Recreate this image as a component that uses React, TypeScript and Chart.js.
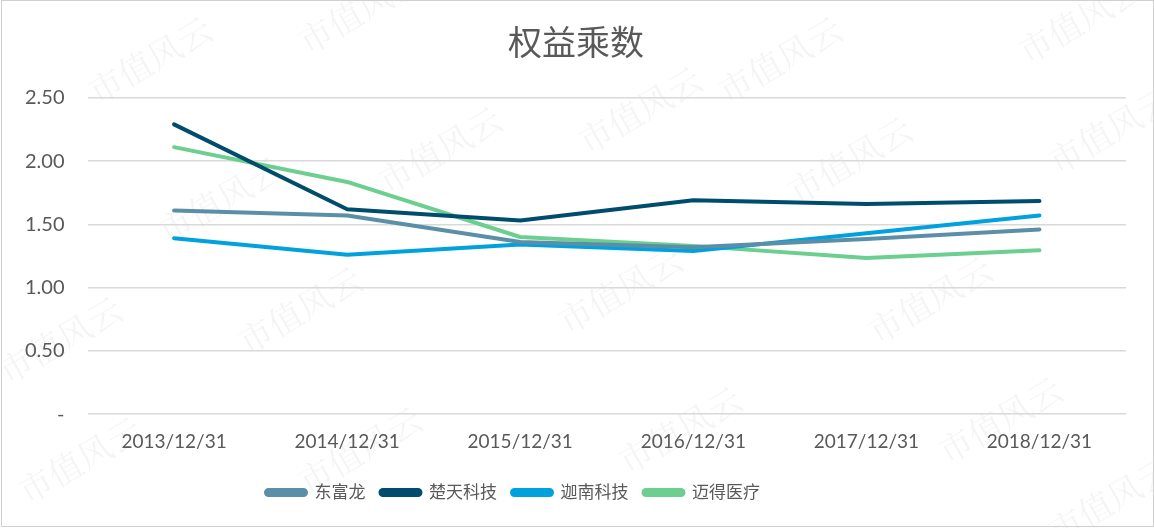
import React, { useEffect, useRef } from "react";
import { Chart, registerables } from "chart.js";

Chart.register(...registerables);

const categories = ["2013/12/31", "2014/12/31", "2015/12/31", "2016/12/31", "2017/12/31", "2018/12/31"];
const seriesNames = ["东富龙", "楚天科技", "迦南科技", "迈得医疗"];
const dongfulong = [1.61, 1.57, 1.36, 1.32, 1.385, 1.46];
const chutian = [2.29, 1.62, 1.53, 1.69, 1.66, 1.685];
const jianan = [1.39, 1.26, 1.34, 1.29, 1.43, 1.57];
const maide = [2.11, 1.835, 1.40, 1.33, 1.235, 1.295];
const colors = ["#5B8FA8", "#004C6D", "#00A2DE", "#6CCF8F"];
const yTicks = [0, 0.5, 1, 1.5, 2, 2.5];

const FONT = "Lato, 'Noto Sans CJK SC', sans-serif";
const LEGEND_CENTER = 513;
const TITLE_CENTER = 576;

const watermark = {
  id: "watermark",
  beforeDraw(chart: any) {
    const ctx = chart.ctx;
    ctx.save();
    ctx.fillStyle = "rgba(0,0,0,0.045)";
    ctx.font = "34px 'Noto Serif CJK SC', 'Noto Sans CJK SC', serif";
    const spots = [
      [150, 60], [360, 10], [780, 60], [1080, 20],
      [220, 200], [440, 150], [640, 110], [850, 160], [1110, 130],
      [300, 310], [620, 290], [930, 300],
      [60, 340], [80, 460], [360, 450], [680, 430], [1000, 420], [1110, 500],
    ];
    for (const [x, y] of spots) {
      ctx.save();
      ctx.translate(x, y);
      ctx.rotate(-Math.PI / 6);
      ctx.textAlign = "center";
      ctx.textBaseline = "middle";
      ctx.fillText("市值风云", 0, 0);
      ctx.restore();
    }
    ctx.restore();
  },
};

const blockShift = {
  id: "blockShift",
  afterLayout(chart: any) {
    const shift = (b: any, center: number) => {
      if (!b) return;
      const dx = center - (b.left + b.right) / 2;
      b.left += dx;
      b.right += dx;
    };
    shift(chart.legend, LEGEND_CENTER);
    shift(chart.titleBlock, TITLE_CENTER);
  },
};

export default function App() {
  const ref = useRef<HTMLCanvasElement | null>(null);
  useEffect(() => {
    document.body.style.margin = "0";
    const data = [dongfulong, chutian, jianan, maide];
    const chart = new Chart(ref.current!, {
      type: "line",
      data: {
        labels: categories,
        datasets: seriesNames.map((n, i) => ({
          label: n,
          data: data[i],
          borderColor: colors[i],
          backgroundColor: colors[i],
          borderWidth: 4,
          borderCapStyle: "round",
          borderJoinStyle: "round",
          pointRadius: 0,
          tension: 0,
        })),
      },
      options: {
        animation: false,
        responsive: false,
        layout: { padding: { left: 2, right: 28, top: 10, bottom: 17 } },
        plugins: {
          title: {
            display: true,
            text: "权益乘数",
            color: "#595959",
            font: { family: FONT, size: 34, weight: "normal" },
            padding: { top: 14, bottom: 33 },
          },
          legend: {
            position: "bottom",
            title: { display: true, text: "", font: { size: 5 }, padding: { top: 2, bottom: 0 } },
            labels: {
              color: "#595959",
              font: { family: FONT, size: 17 },
              boxWidth: 40,
              boxHeight: 5,
              useBorderRadius: true,
              borderRadius: 2.5,
              padding: 15,
            },
          },
          tooltip: { enabled: false },
        },
        scales: {
          x: {
            offset: true,
            grid: { display: false },
            border: { display: false },
            ticks: { color: "#595959", font: { family: FONT, size: 19 }, padding: 8, maxRotation: 0 },
          },
          y: {
            min: 0,
            max: 2.5,
            afterBuildTicks: (axis: any) => {
              axis.ticks = yTicks.map((v) => ({ value: v }));
            },
            grid: { color: "#D9D9D9", lineWidth: 1.5, drawTicks: false },
            border: { display: false },
            ticks: {
              color: "#595959",
              font: { family: FONT, size: 20 },
              padding: 23,
              callback: (v: any) => (Number(v) === 0 ? "-" : Number(v).toFixed(2)),
            },
          },
        },
      } as any,
      plugins: [watermark, blockShift],
    });
    return () => chart.destroy();
  }, []);
  return (
    <div style={{ position: "fixed", left: 0, top: 0, width: 1154, height: 528 }}>
      <canvas ref={ref} width={1154} height={528} style={{ width: 1154, height: 528, display: "block" }} />
      <div style={{ position: "absolute", left: 1, top: 0, width: 1151, height: 525, border: "1px solid #D0D0D0", pointerEvents: "none" }} />
    </div>
  );
}
